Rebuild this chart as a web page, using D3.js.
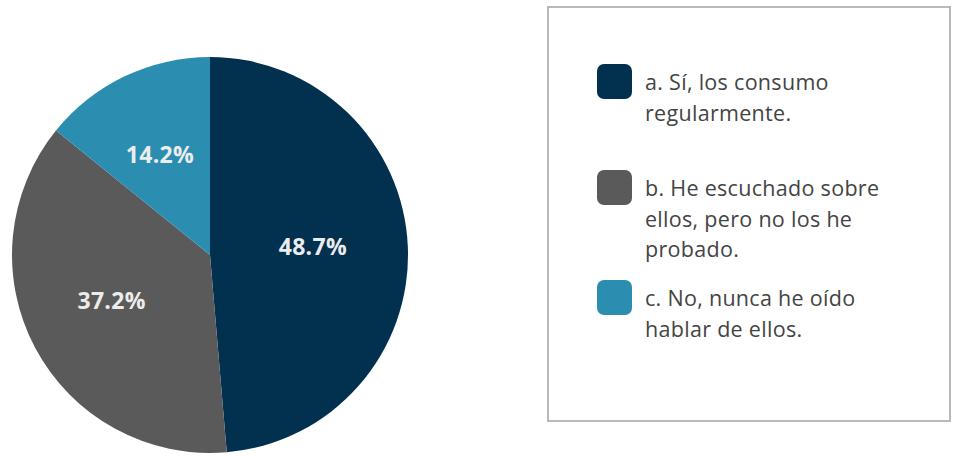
<!DOCTYPE html>
<html>
<head>
<meta charset="utf-8">
<script src="https://cdn.jsdelivr.net/npm/d3@7"></script>
<style>
  html, body { margin: 0; padding: 0; background: #ffffff; }
  svg { display: block; }
</style>
</head>
<body>
<svg id="chart" width="955" height="456"></svg>
<script>
// Survey answers and their shares (%)
const categories = [
  "a. Sí, los consumo regularmente.",
  "b. He escuchado sobre ellos, pero no los he probado.",
  "c. No, nunca he oído hablar de ellos."
];
const legendLines = [
  ["a. Sí, los consumo", "regularmente."],
  ["b. He escuchado sobre", "ellos, pero no los he", "probado."],
  ["c. No, nunca he oído", "hablar de ellos."]
];
const values = [48.7, 37.2, 14.2];
const colors = ["#02304f", "#5a5a5a", "#2b8eb0"];

const svg = d3.select("#chart");

// ---- Pie ----
const cx = 210, cy = 255, R = 198;
const pie = d3.pie().sort(null).value(d => d.value);
const data = categories.map((c, i) => ({ name: c, value: values[i], color: colors[i] }));
const arcs = pie(data);
const arc = d3.arc().innerRadius(0).outerRadius(R);
const labelArc = d3.arc().innerRadius(R * 0.54).outerRadius(R * 0.54);

const g = svg.append("g").attr("transform", `translate(${cx},${cy})`);
g.selectAll("path.slice")
  .data(arcs)
  .join("path")
  .attr("class", "slice")
  .attr("d", arc)
  .attr("fill", d => d.data.color);

g.selectAll("text.pct")
  .data(arcs)
  .join("text")
  .attr("class", "pct")
  .attr("transform", d => {
    const [x, y] = labelArc.centroid(d);
    return `translate(${x - 4},${y - 4})`;
  })
  .attr("text-anchor", "middle")
  .attr("dy", "0.36em")
  .attr("fill", "#ececec")
  .style("font-family", "'Open Sans', 'DejaVu Sans', sans-serif")
  .style("font-weight", 700)
  .style("font-size", "23px")
  .style("letter-spacing", "0.3px")
  .text(d => d.data.value.toFixed(1) + "%");

// ---- Legend ----
const box = { x: 548, y: 7, w: 402, h: 414 };
svg.append("rect")
  .attr("x", box.x).attr("y", box.y)
  .attr("width", box.w).attr("height", box.h)
  .attr("fill", "#ffffff")
  .attr("stroke", "#b9b9b9")
  .attr("stroke-width", 2);

const entryTop = [64, 170, 280];
const lineH = 30.5;
const items = svg.append("g").selectAll("g.item")
  .data(data)
  .join("g")
  .attr("class", "item")
  .attr("transform", (d, i) => `translate(597,${entryTop[i]})`);

items.append("rect")
  .attr("width", 35).attr("height", 35)
  .attr("rx", 7).attr("ry", 7)
  .attr("fill", d => d.color);

items.append("text")
  .attr("fill", "#444444")
  .style("font-family", "'Open Sans', Lato, sans-serif")
  .style("font-size", "21.5px")
  .style("font-weight", 500)
  .style("letter-spacing", "0.3px")
  .selectAll("tspan")
  .data((d, i) => legendLines[i])
  .join("tspan")
  .attr("x", 48)
  .attr("y", (t, j) => 26 + j * lineH)
  .text(t => t);
</script>
</body>
</html>
